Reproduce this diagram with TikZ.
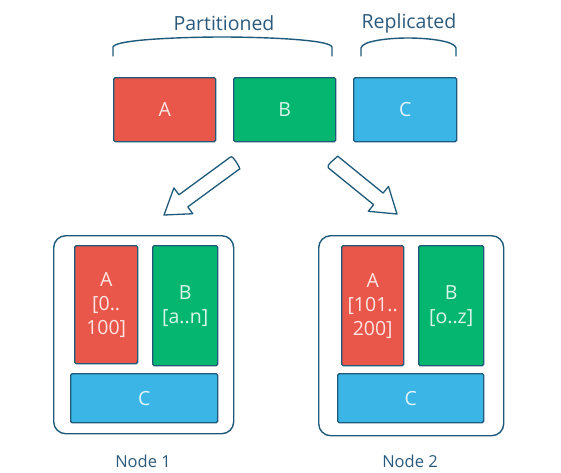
\documentclass[tikz,border=0pt]{standalone}
\usepackage{fontspec}
\setmainfont{Open Sans}
\usetikzlibrary{calc}
\definecolor{cred}{HTML}{E9564A}
\definecolor{cgreen}{HTML}{04B66F}
\definecolor{cblue}{HTML}{3BB5E6}
\definecolor{outl}{HTML}{1F5A7A}
\definecolor{lbl}{HTML}{2C5A7C}
\tikzset{
  part/.style={draw=outl, line width=1.4pt, rounded corners=1.5pt, text=white, text opacity=0.85, font=\fontsize{19.5}{24}\selectfont, align=center, inner sep=0pt, anchor=north west},
  redbox/.style={part, fill=cred},
  greenbox/.style={part, fill=cgreen},
  bluebox/.style={part, fill=cblue},
  server/.style={draw=outl, line width=1.4pt, rounded corners=12pt, fill=white, inner sep=0pt, anchor=north west},
  toplabel/.style={text=lbl, font=\fontsize{19.5}{22}\selectfont},
  nodelabel/.style={text=lbl, font=\fontsize{16.5}{18}\selectfont},
  brace/.style={draw=outl, line width=1.4pt, line cap=round},
  blockarrow/.style={draw=outl, line width=1.3pt, fill=white, line join=round}
}
\begin{document}
\begin{tikzpicture}[x=1pt,y=-1pt]
\useasboundingbox (0,0) rectangle (561,472);
% top labels and braces
\node[toplabel] (lpart) at (224,23) {Partitioned};
\node[toplabel] (lrep) at (409,23) {Replicated};
\draw[brace] (113,56) -- (113,47) .. controls (115,39) and (190,37) .. (222,37) .. controls (255,37) and (330,39) .. (332,47) -- (332,56);
\draw[brace] (361,56) -- (361,48) .. controls (362,41) and (388,38) .. (408,38) .. controls (428,38) and (455,41) .. (456,48) -- (456,56);
% top boxes
\node[redbox, minimum width=102pt, minimum height=64pt] (ta) at (113,77) {A};
\node[greenbox, minimum width=102pt, minimum height=64pt] (tb) at (233,77) {B};
\node[bluebox, minimum width=103pt, minimum height=64pt] (tc) at (353,77) {C};
% block arrows
\coordinate (lt) at (235,163);
\coordinate (lh) at (164,215);
\coordinate (lb) at ($(lh)!24pt!(lt)$);
\draw[blockarrow] ($(lt)!7.5pt!90:(lh)$) -- ($(lb)!7.5pt!-90:(lt)$) -- ($(lb)!16pt!-90:(lt)$) -- (lh) -- ($(lb)!16pt!90:(lt)$) -- ($(lb)!7.5pt!90:(lt)$) -- ($(lt)!7.5pt!-90:(lh)$) to[out=45,in=-45,looseness=0.6] cycle;
\coordinate (rt) at (333,162);
\coordinate (rh) at (397,214);
\coordinate (rb) at ($(rh)!24pt!(rt)$);
\draw[blockarrow] ($(rt)!7.5pt!90:(rh)$) -- ($(rb)!7.5pt!-90:(rt)$) -- ($(rb)!16pt!-90:(rt)$) -- (rh) -- ($(rb)!16pt!90:(rt)$) -- ($(rb)!7.5pt!90:(rt)$) -- ($(rt)!7.5pt!-90:(rh)$) to[out=135,in=225,looseness=0.6] cycle;
% Node 1
\node[server, minimum width=180pt, minimum height=198pt] (n1) at (53,235) {};
\node[redbox, minimum width=63pt, minimum height=118pt] (n1a) at (74,245) {A\\{[0..}\\100]};
\node[greenbox, minimum width=65pt, minimum height=120pt] (n1b) at (152,245) {B\\{[a..n]}};
\node[bluebox, minimum width=147pt, minimum height=49pt] (n1c) at (70,373) {C};
\node[nodelabel] (l1) at (143,461) {Node 1};
% Node 2
\node[server, minimum width=185pt, minimum height=200pt] (n2) at (318,235) {};
\node[redbox, minimum width=62pt, minimum height=120pt] (n2a) at (341,245) {A\\{[101..}\\200]};
\node[greenbox, minimum width=65pt, minimum height=120pt] (n2b) at (418,245) {B\\{[o..z]}};
\node[bluebox, minimum width=146pt, minimum height=49pt] (n2c) at (337,373) {C};
\node[nodelabel] (l2) at (410,461) {Node 2};
\end{tikzpicture}
\end{document}
